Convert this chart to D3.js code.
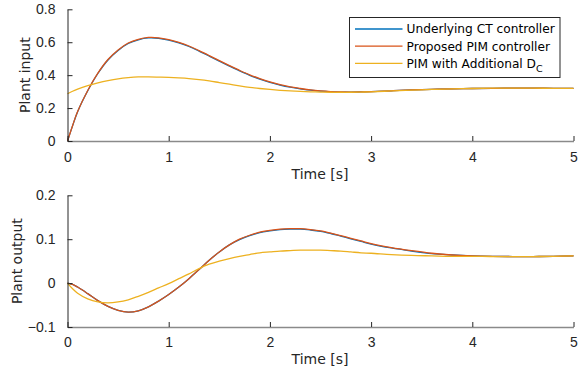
<!DOCTYPE html>
<html>
<head>
<meta charset="utf-8">
<script src="https://cdn.jsdelivr.net/npm/d3@7/dist/d3.min.js"></script>
<style>
  body { margin: 0; background: #fff; }
  svg { display: block; font-family: "Liberation Sans", Arial, sans-serif; }
  .lbl { font-family: "DejaVu Sans", sans-serif; }
</style>
</head>
<body>
<svg id="chart" width="584" height="379"></svg>
<script>
// time grid [s]
var timeGrid = [0, 0.05, 0.1, 0.2, 0.3, 0.4, 0.5, 0.6, 0.7, 0.8, 0.9, 1.0, 1.1, 1.2, 1.3, 1.4, 1.5,
  1.6, 1.7, 1.8, 1.9, 2.0, 2.1, 2.2, 2.3, 2.4, 2.5, 2.6, 2.7, 2.8, 2.9, 3.0,
  3.2, 3.4, 3.6, 3.8, 4.0, 4.2, 4.4, 4.6, 4.8, 5.0];

// plant input
var inputCT = [0, 0.092, 0.178, 0.305, 0.41, 0.492, 0.55, 0.592, 0.615, 0.626, 0.624, 0.613, 0.596, 0.574, 0.546, 0.516, 0.485,
  0.455, 0.426, 0.399, 0.376, 0.356, 0.34, 0.327, 0.317, 0.309, 0.303, 0.299, 0.297, 0.297, 0.298, 0.300,
  0.305, 0.310, 0.314, 0.317, 0.319, 0.320, 0.321, 0.321, 0.320, 0.320];
var inputPIM = [0, 0.093, 0.179, 0.307, 0.412, 0.495, 0.553, 0.595, 0.618, 0.629, 0.627, 0.616, 0.599, 0.577, 0.549, 0.519, 0.488,
  0.458, 0.429, 0.402, 0.379, 0.359, 0.342, 0.329, 0.319, 0.310, 0.304, 0.300, 0.298, 0.297, 0.298, 0.300,
  0.305, 0.310, 0.314, 0.317, 0.319, 0.320, 0.321, 0.321, 0.320, 0.320];
var inputDC = [0.287, 0.302, 0.315, 0.336, 0.353, 0.367, 0.378, 0.385, 0.389, 0.389, 0.388, 0.386, 0.383, 0.379, 0.373, 0.365, 0.355,
  0.345, 0.335, 0.326, 0.319, 0.313, 0.308, 0.304, 0.301, 0.299, 0.297, 0.296, 0.296, 0.296, 0.297, 0.299,
  0.304, 0.309, 0.313, 0.317, 0.319, 0.321, 0.321, 0.321, 0.320, 0.320];

// plant output
var outputCT = [0, -0.003, -0.009, -0.024, -0.040, -0.053, -0.062, -0.066, -0.063, -0.054, -0.041, -0.026, -0.009, 0.010, 0.031, 0.052, 0.071,
  0.087, 0.099, 0.108, 0.115, 0.119, 0.122, 0.123, 0.123, 0.121, 0.118, 0.113, 0.107, 0.101, 0.095, 0.089,
  0.080, 0.073, 0.067, 0.064, 0.062, 0.061, 0.0605, 0.0605, 0.061, 0.062];
var outputPIM = [0, -0.003, -0.009, -0.024, -0.040, -0.053, -0.062, -0.066, -0.063, -0.054, -0.041, -0.026, -0.009, 0.010, 0.031, 0.052, 0.071,
  0.087, 0.100, 0.109, 0.116, 0.120, 0.123, 0.124, 0.124, 0.122, 0.119, 0.114, 0.108, 0.102, 0.096, 0.090,
  0.081, 0.074, 0.068, 0.064, 0.062, 0.061, 0.0605, 0.0605, 0.061, 0.062];
var outputDC = [0, -0.013, -0.023, -0.036, -0.043, -0.045, -0.043, -0.038, -0.030, -0.021, -0.011, -0.001, 0.010, 0.021, 0.033, 0.043, 0.050,
  0.056, 0.061, 0.065, 0.069, 0.071, 0.073, 0.074, 0.075, 0.075, 0.075, 0.074, 0.073, 0.071, 0.069, 0.068,
  0.065, 0.063, 0.062, 0.061, 0.061, 0.0605, 0.0605, 0.0605, 0.061, 0.062];

var xTicks = [0, 1, 2, 3, 4, 5];
var inputTicks = [0, 0.2, 0.4, 0.6, 0.8];
var outputTicks = [-0.1, 0, 0.1, 0.2];
var seriesNames = ["Underlying CT controller", "Proposed PIM controller", "PIM with Additional D"];
var colors = ["#0072BD", "#D95319", "#EDB120"];

var axisColor = "#262626";
var svg = d3.select("#chart");

var x = d3.scaleLinear().domain([0, 5]).range([67.5, 573.5]);

function drawPanel(opt) {
  var y = d3.scaleLinear().domain(opt.domain).range(opt.range);
  var g = svg.append("g");
  var y0 = opt.range[0];

  // lines
  var line = d3.line()
    .x(function(d, i) { return x(timeGrid[i]); })
    .y(function(d) { return y(d); })
    .curve(d3.curveCatmullRom.alpha(0.5));
  opt.series.forEach(function(s, i) {
    g.append("path")
      .datum(s)
      .attr("fill", "none")
      .attr("stroke", colors[i])
      .attr("stroke-width", 1.3)
      .attr("d", line);
  });

  // x axis (ticks inward)
  var xa = g.append("g")
    .attr("transform", "translate(0," + y0 + ")")
    .call(d3.axisBottom(x).tickValues(xTicks).tickSizeInner(-5).tickSizeOuter(0).tickPadding(0).tickFormat(d3.format("d")));
  xa.select(".domain").attr("stroke", "#8a8a8a").attr("stroke-width", 1.5);
  xa.selectAll(".tick line").attr("stroke", axisColor);
  xa.selectAll(".tick text").attr("fill", axisColor).attr("font-size", 14)
    .attr("y", 0).attr("dy", null).attr("transform", "translate(0," + (opt.tickBase - y0) + ")");

  // y axis
  var ya = g.append("g")
    .attr("transform", "translate(67.5,0)")
    .call(d3.axisLeft(y).tickValues(opt.ticks).tickSizeInner(-5).tickSizeOuter(0).tickPadding(12)
      .tickFormat(function(d) { return d === 0 ? "0" : d3.format("")(d).replace("-", "\u2212"); }));
  ya.select(".domain").attr("stroke", axisColor);
  ya.selectAll(".tick line").attr("stroke", axisColor);
  ya.selectAll(".tick text").attr("fill", axisColor).attr("font-size", 14);

  g.append("text").attr("class", "lbl")
    .attr("x", 320).attr("y", opt.tickBase + 17)
    .attr("text-anchor", "middle").attr("font-size", 14).attr("fill", axisColor)
    .text("Time [s]");

  g.append("text").attr("class", "lbl")
    .attr("transform", "translate(" + opt.labelX + "," + ((opt.range[0] + opt.range[1]) / 2) + ") rotate(-90)")
    .attr("text-anchor", "middle").attr("font-size", 14).attr("fill", axisColor)
    .text(opt.label);
}

drawPanel({
  domain: [0, 0.8], range: [141, 9.3], ticks: inputTicks,
  series: [inputCT, inputPIM, inputDC], label: "Plant input", labelX: 29.5, tickBase: 161.5
});
drawPanel({
  domain: [-0.1, 0.2], range: [327, 195.3], ticks: outputTicks,
  series: [outputCT, outputPIM, outputDC], label: "Plant output", labelX: 22, tickBase: 346.5
});

// legend
var lg = svg.append("g").attr("transform", "translate(349.5,17.5)");
lg.append("rect").attr("width", 210.5).attr("height", 60)
  .attr("fill", "#fff").attr("stroke", axisColor).attr("stroke-width", 1);
seriesNames.forEach(function(name, i) {
  var yy = 11.5 + i * 17.2;
  lg.append("line").attr("x1", 5.5).attr("x2", 53).attr("y1", yy).attr("y2", yy)
    .attr("stroke", colors[i]).attr("stroke-width", 1.3);
  var t = lg.append("text").attr("class", "lbl").attr("x", 57).attr("y", yy + 4.3)
    .attr("font-size", 12.2).attr("fill", "#000").text(name);
  if (i === 2) {
    t.append("tspan").attr("font-size", 9.5).attr("dy", 4).text("C");
  }
});
</script>
</body>
</html>
